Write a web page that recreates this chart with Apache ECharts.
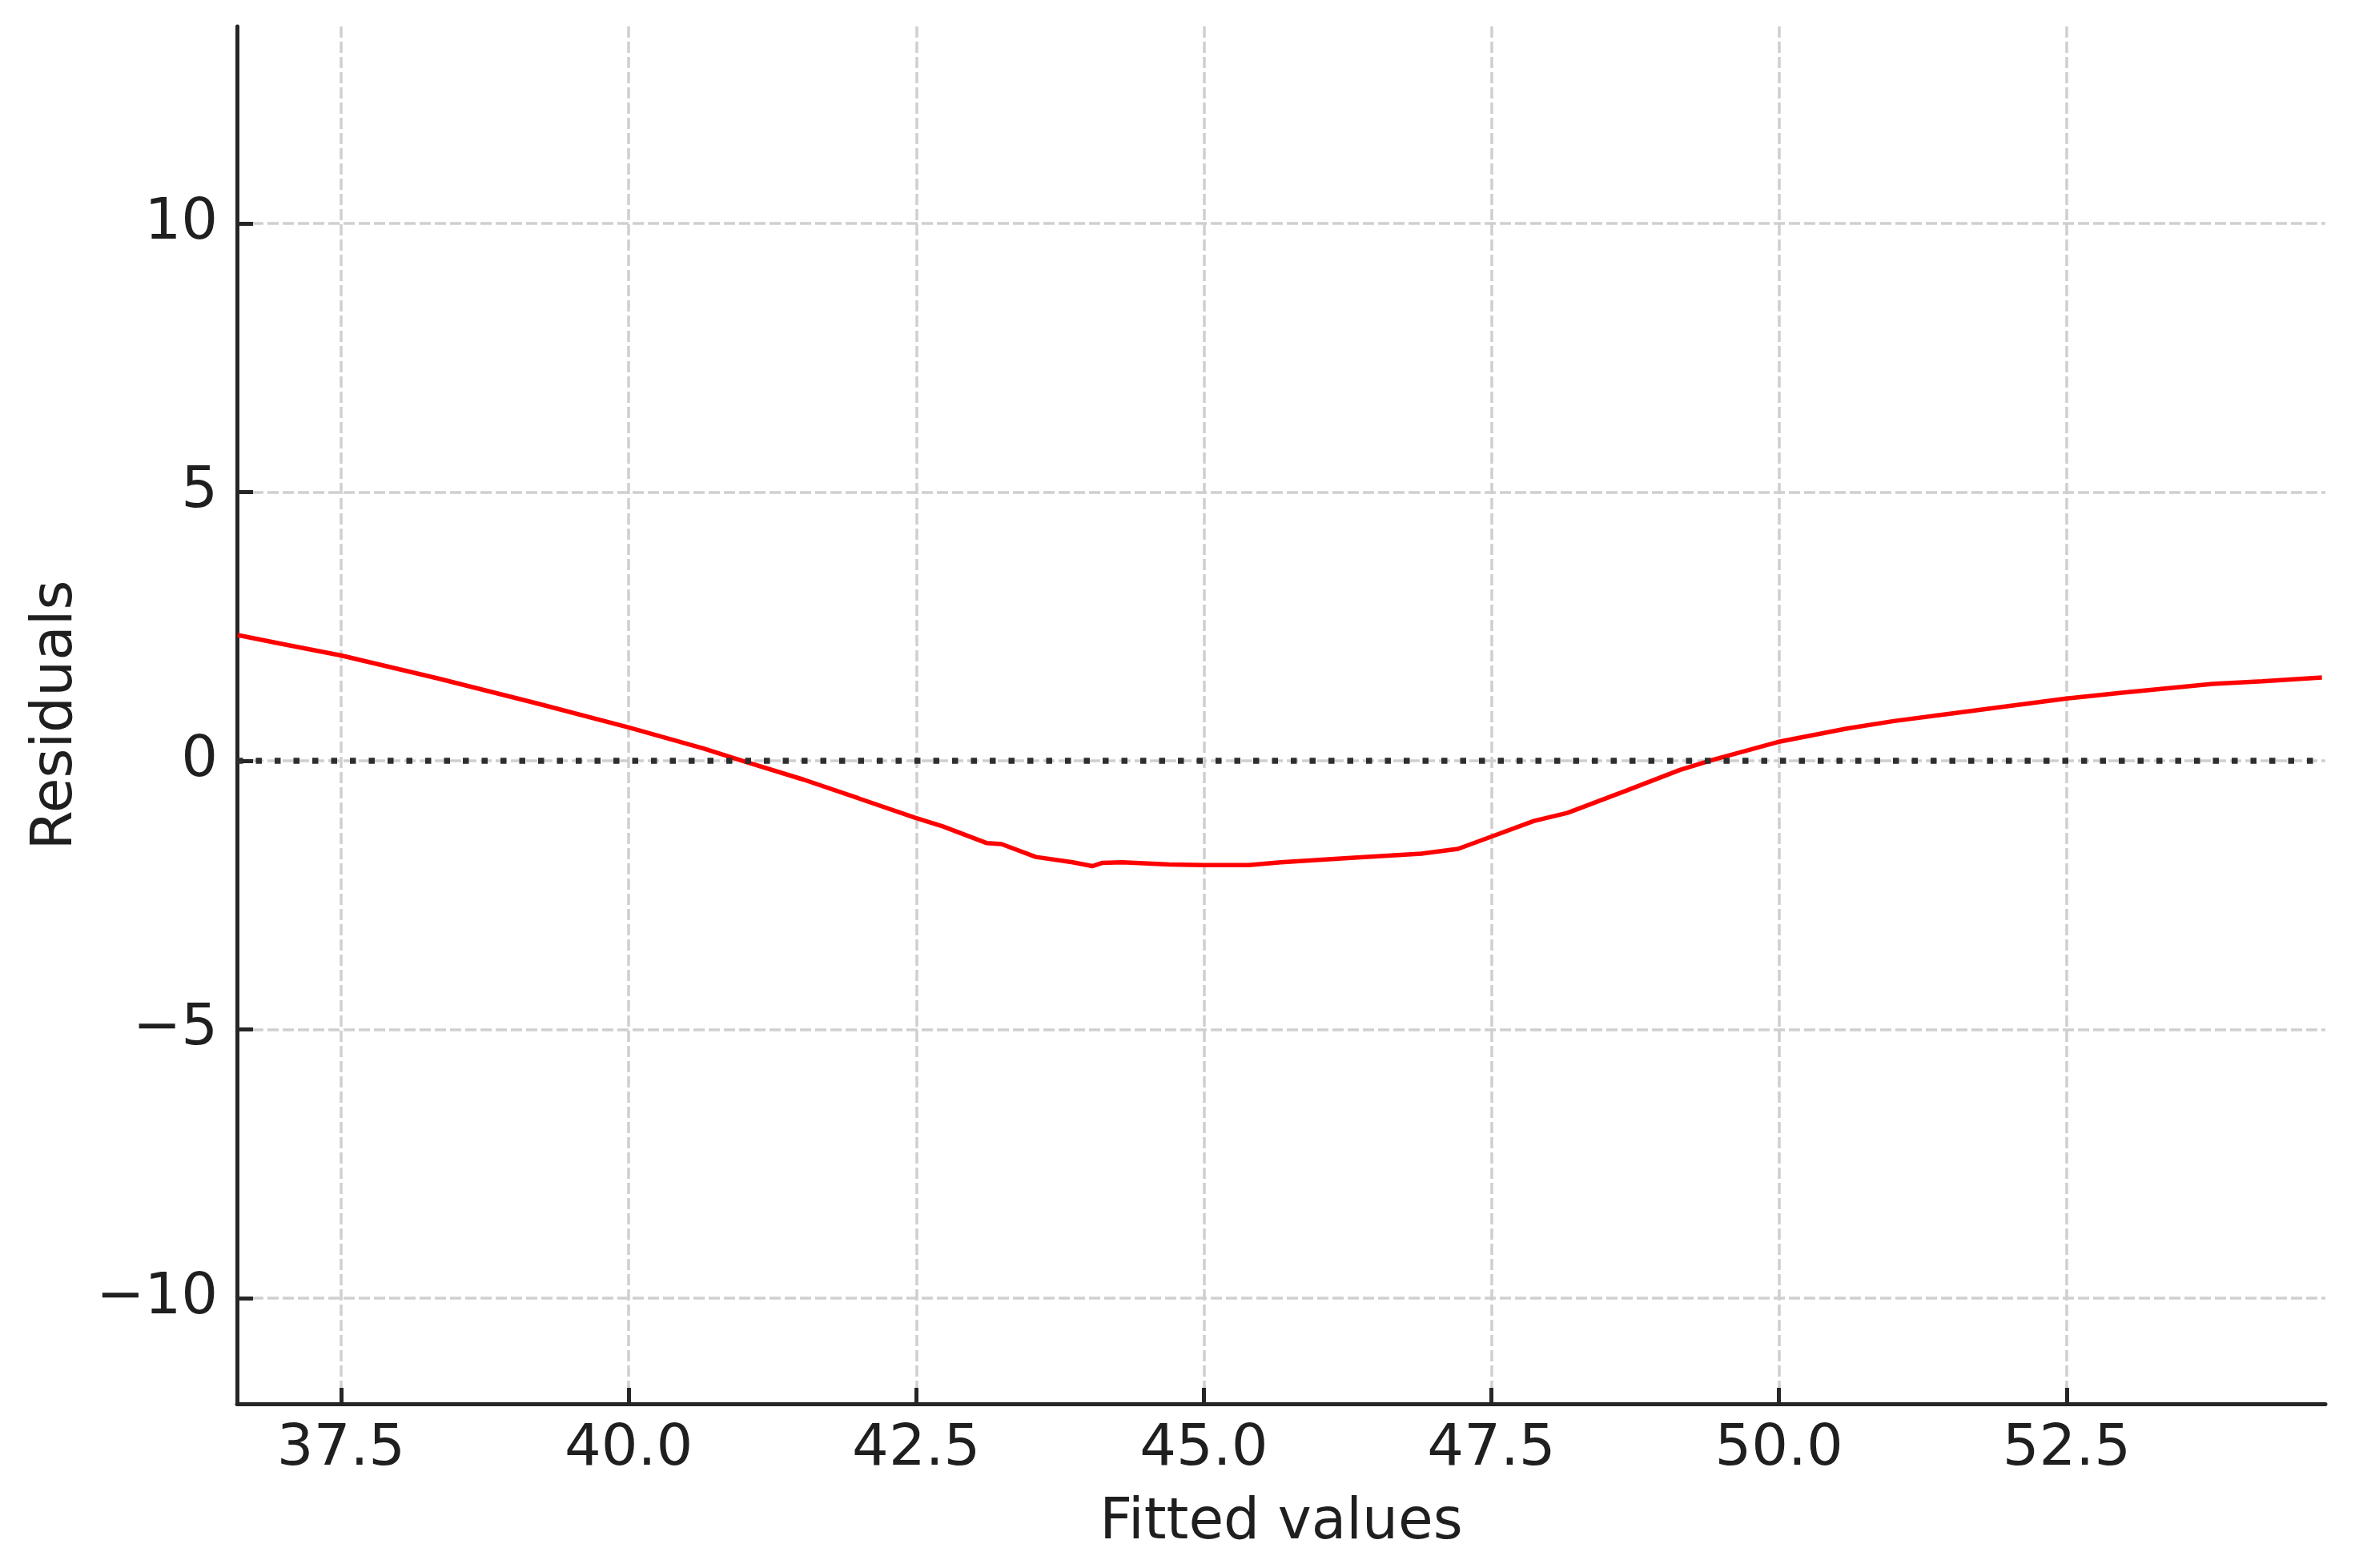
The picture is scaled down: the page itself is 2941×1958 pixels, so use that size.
<!DOCTYPE html>
<html>
<head>
<meta charset="utf-8">
<script src="https://cdn.jsdelivr.net/npm/echarts@6/dist/echarts.min.js"></script>
<style>
html,body{margin:0;padding:0;background:#fff;}
#c{width:2941px;height:1958px;}
</style>
</head>
<body>
<div id="c"></div>
<script>
const fittedValues = [36.60, 37.00, 37.50, 38.33, 39.20, 40.00, 40.65, 40.99, 41.52, 42.00, 42.49, 42.73, 43.11, 43.24, 43.54, 43.86, 44.03, 44.12, 44.29, 44.70, 45.00, 45.39, 45.67, 46.25, 46.89, 47.21, 47.49, 47.87, 48.16, 48.68, 49.14, 49.43, 49.99, 50.59, 51.00, 51.46, 52.50, 53.00, 53.77, 54.20, 54.72];
const residuals    = [2.34, 2.17, 1.96, 1.54, 1.07, 0.62, 0.23, 0.00, -0.35, -0.70, -1.06, -1.22, -1.53, -1.55, -1.79, -1.89, -1.96, -1.90, -1.89, -1.93, -1.94, -1.94, -1.89, -1.81, -1.73, -1.64, -1.42, -1.12, -0.97, -0.55, -0.17, 0.02, 0.35, 0.60, 0.74, 0.87, 1.16, 1.27, 1.43, 1.48, 1.55];
const xTicks = [37.5, 40.0, 42.5, 45.0, 47.5, 50.0, 52.5];
const yTicks = [-10, -5, 0, 5, 10];
const xRange = [36.595, 54.75];
const yRange = [-11.97, 13.67];

const lineData = fittedValues.map((x, i) => [x, residuals[i]]);
const font = 'DejaVu Sans';
const ink = '#1f1f1f';
const axisColor = '#262626';
const gridColor = '#cfcfcf';

const chart = echarts.init(document.getElementById('c'), null, {renderer: 'canvas'});
chart.setOption({
  backgroundColor: '#ffffff',
  animation: false,
  grid: {left: 296, top: 33, width: 2608, height: 1720, containLabel: false},
  xAxis: {
    type: 'value',
    min: xRange[0], max: xRange[1],
    name: 'Fitted values',
    nameLocation: 'middle',
    nameGap: 114,
    nameTextStyle: {fontFamily: font, fontSize: 71, color: ink},
    axisLine: {show: true, onZero: false, lineStyle: {color: axisColor, width: 5}},
    axisTick: {show: true, inside: true, length: 20, lineStyle: {color: axisColor, width: 5}, customValues: xTicks},
    axisLabel: {fontFamily: font, fontSize: 72, color: ink, margin: 21, customValues: xTicks,
      formatter: v => Number(v).toFixed(1)},
    splitLine: {show: true, lineStyle: {color: gridColor, width: 3.5, type: [14, 5]}}
  },
  yAxis: {
    type: 'value',
    min: yRange[0], max: yRange[1],
    name: 'Residuals',
    nameLocation: 'middle',
    nameGap: 190,
    nameTextStyle: {fontFamily: font, fontSize: 71, color: ink},
    axisLine: {show: true, onZero: false, lineStyle: {color: axisColor, width: 5}},
    axisTick: {show: true, inside: true, length: 20, lineStyle: {color: axisColor, width: 5}, customValues: yTicks},
    axisLabel: {fontFamily: font, fontSize: 72, color: ink, margin: 24, customValues: yTicks,
      formatter: v => String(v).replace('-', '\u2212')},
    splitLine: {show: true, lineStyle: {color: gridColor, width: 3.5, type: [14, 5]}}
  },
  series: [
    {
      type: 'line',
      data: lineData,
      showSymbol: false,
      symbol: 'none',
      smooth: false,
      lineStyle: {color: '#ff0000', width: 5.5},
      z: 3
    },
    {
      type: 'line',
      data: [],
      symbol: 'none',
      z: 4,
      markLine: {
        silent: true,
        symbol: 'none',
        label: {show: false},
        lineStyle: {color: '#2e2e2e', width: 7.5, type: [7.5, 16], cap: 'butt'},
        data: [{yAxis: 0}]
      }
    }
  ]
});
</script>
</body>
</html>
